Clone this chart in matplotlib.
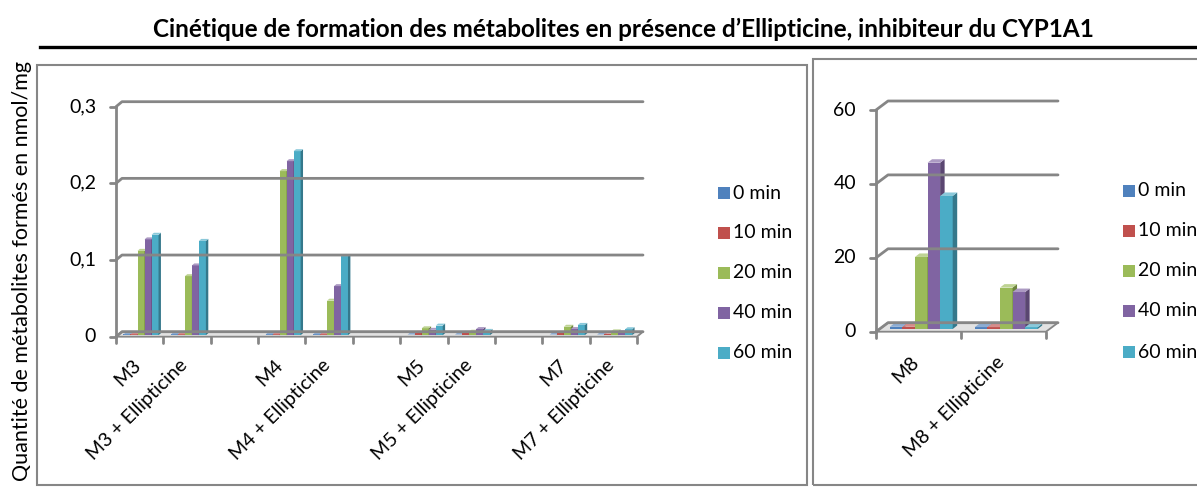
import numpy as np
import matplotlib.pyplot as plt
import matplotlib.colors as mcolors
from matplotlib.patches import Polygon, Rectangle
from matplotlib.lines import Line2D

W, H = 1197, 493

series = ['0 min', '10 min', '20 min', '40 min', '60 min']
colors = ['#4F81BD', '#C0504D', '#9BBB59', '#8064A2', '#4BACC6']

# left chart (M3 .. M7), empty slots between groups
left_cats = ['M3', 'M3 + Ellipticine', '', 'M4', 'M4 + Ellipticine', '',
             'M5', 'M5 + Ellipticine', '', 'M7', 'M7 + Ellipticine']
left_0 = [0.001, 0.001, None, 0.001, 0.001, None, 0.0008, 0.0008, None, 0.0008, 0.0008]
left_10 = [0.001, 0.001, None, 0.001, 0.001, None, 0.003, 0.003, None, 0.003, 0.002]
left_20 = [0.110, 0.077, None, 0.214, 0.045, None, 0.009, 0.0045, None, 0.011, 0.005]
left_40 = [0.125, 0.091, None, 0.227, 0.064, None, 0.007, 0.008, None, 0.008, 0.004]
left_60 = [0.131, 0.123, None, 0.240, 0.103, None, 0.0125, 0.0056, None, 0.0134, 0.0078]
left_ticks = [0, 0.1, 0.2, 0.3]
left_ticklabels = ['0', '0,1', '0,2', '0,3']

# right chart (M8)
right_cats = ['M8', 'M8 + Ellipticine']
right_0 = [0.6, 0.5]
right_10 = [0.6, 0.5]
right_20 = [19.5, 11.2]
right_40 = [45.0, 10.0]
right_60 = [36.0, 0.5]
right_ticks = [0, 20, 40, 60]
right_ticklabels = ['0', '20', '40', '60']

GREY = '#868686'
FS = 14
plt.rcParams['font.family'] = ['Lato', 'DejaVu Sans']


def fx(x):
    return x / W


def fy(y):
    return 1 - y / H


def shade(c, f):
    r, g, b = mcolors.to_rgb(c)
    if f < 1:
        return (r * f, g * f, b * f)
    t = f - 1
    return (r + (1 - r) * t, g + (1 - g) * t, b + (1 - b) * t)


def panel(ax, cats, values, ymax, ticks, ticklabels, box, back, depth, lab_pad):
    left, right, top, bottom = box
    n = len(cats)
    ax.set_xlim(0, n)
    ax.set_ylim(0, ymax)
    ax.axis('off')
    sx = n / (right - left)
    sy = ymax / (bottom - top)
    bx, by = back[0] * sx, back[1] * sy
    kw = dict(color=GREY, lw=2, clip_on=False, solid_capstyle='round')
    # floor
    ax.add_patch(Polygon([(0, 0), (n, 0), (n + bx, by), (bx, by)], closed=True,
                         fc='#e2e2e2', ec=GREY, lw=1.3, clip_on=False))
    # gridlines on back wall
    for t in ticks:
        ax.add_line(Line2D([0, bx, n + bx], [t, t + by, t + by], **kw))
    ax.add_line(Line2D([0, 0], [0, ymax], **kw))
    # ticks
    for t, lab in zip(ticks, ticklabels):
        ax.add_line(Line2D([-6 * sx, 0], [t, t], **kw))
        ax.text(-20 * sx, t, lab, ha='right', va='center', fontsize=FS)
    for i in range(n + 1):
        ax.add_line(Line2D([i, i], [0, -6 * sy], **kw))
    # bars
    w = 0.148
    start = 0.12
    ox, oy = back[0] * 0.3 * sx, back[1] * 0.3 * sy
    dx, dy = depth[0] * sx, depth[1] * sy
    for i in range(n):
        for k, vals in enumerate(values):
            h = vals[i]
            if h is None:
                continue
            c = colors[k]
            x = i + start + k * w + ox
            y = oy
            ax.add_patch(Rectangle((x, y), w, h, fc=c, ec='none', clip_on=False))
            ax.add_patch(Polygon([(x + w, y), (x + w + dx, y + dy), (x + w + dx, y + h + dy), (x + w, y + h)],
                                 closed=True, fc=shade(c, 0.7), ec='none', clip_on=False))
            ax.add_patch(Polygon([(x, y + h), (x + dx, y + h + dy), (x + w + dx, y + h + dy), (x + w, y + h)],
                                 closed=True, fc=shade(c, 1.35), ec='none', clip_on=False))
    # category labels
    for i, lab in enumerate(cats):
        if lab:
            ax.text(i + 0.5 + 4 * sx, -lab_pad * sy, lab, rotation=45, ha='right', va='top',
                    fontsize=FS)


def legend(x, ys):
    for y, c, s in zip(ys, colors, series):
        fig.patches.append(Rectangle((fx(x), fy(y + 6)), 12 / W, 12 / H, fc=c, ec='none',
                                     transform=fig.transFigure))
        fig.text(fx(x + 15), fy(y), s, ha='left', va='center', fontsize=FS)


fig = plt.figure(figsize=(W / 100, H / 100), dpi=100)

# title and rule
fig.text(fx(623), fy(29), 'Cinétique de formation des métabolites en présence d\u2019Ellipticine, inhibiteur du CYP1A1',
         ha='center', va='center', fontsize=17.5, fontweight='bold')
fig.add_artist(Line2D([fx(40), fx(1197)], [fy(46.5), fy(46.5)], color='black', lw=2.4,
                      transform=fig.transFigure))

# chart boxes
fig.patches.append(Rectangle((fx(37), fy(485)), 770 / W, 420 / H, fill=False, ec=GREY, lw=1.5,
                             transform=fig.transFigure))
fig.patches.append(Rectangle((fx(813), fy(485)), 400 / W, 426 / H, fill=False, ec=GREY, lw=1.5,
                             transform=fig.transFigure))

fig.text(fx(22), fy(61), 'Quantité de métabolites formés en nmol/mg', rotation=90,
         ha='center', va='top', fontsize=15.5)

box_l = (116, 637, 106.7, 336.7)
ax_l = fig.add_axes([fx(box_l[0]), fy(box_l[3]), (box_l[1] - box_l[0]) / W, (box_l[3] - box_l[2]) / H])
panel(ax_l, left_cats, [left_0, left_10, left_20, left_40, left_60], 0.3,
      left_ticks, left_ticklabels, box_l, (6, 5), (2.4, 2), 20)

box_r = (876, 1046, 110, 331.7)
ax_r = fig.add_axes([fx(box_r[0]), fy(box_r[3]), (box_r[1] - box_r[0]) / W, (box_r[3] - box_r[2]) / H])
panel(ax_r, right_cats, [right_0, right_10, right_20, right_40, right_60], 60,
      right_ticks, right_ticklabels, box_r, (12, 9), (4.5, 3.5), 22)

legend(718, [193, 233, 273, 313, 353])
legend(1123, [191, 231, 271, 311, 352])

fig.savefig('out.png', dpi=100)
